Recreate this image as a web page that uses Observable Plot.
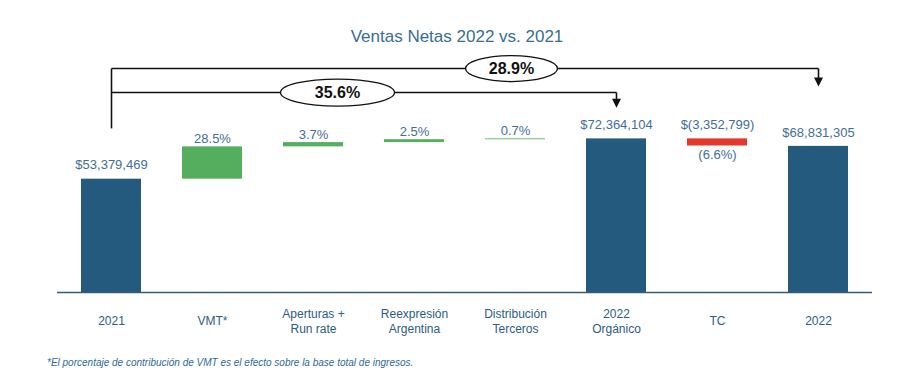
<!DOCTYPE html>
<html><head><meta charset="utf-8">
<script src="https://cdn.jsdelivr.net/npm/d3@7"></script>
<script src="https://cdn.jsdelivr.net/npm/@observablehq/plot@0.6"></script>
<style>
body{margin:0;background:#fff;width:900px;height:390px;position:relative;overflow:hidden;font-family:"Liberation Sans",Arial,sans-serif}
#title{position:absolute;top:27px;left:0;width:914px;text-align:center;font-size:17px;color:#3a6d93;line-height:20px}
#chart{position:absolute;top:50px;left:0}
#note{position:absolute;top:357px;left:47px;font-size:10px;font-style:italic;color:#2f6a98;white-space:nowrap}
</style></head><body>
<div id="title">Ventas Netas 2022 vs. 2021</div>
<div id="chart"></div>
<div id="note">*El porcentaje de contribución de VMT es el efecto sobre la base total de ingresos.</div>
<script>
// ---- data ----
const categories = ["2021", "VMT*", "Aperturas +\nRun rate", "Reexpresión\nArgentina", "Distribución\nTerceros", "2022\nOrgánico", "TC", "2022"];
const kinds = ["total", "up", "up", "up", "up", "total", "down", "total"];
const amounts = [53379469, 15230000, 2000000, 1360000, 390000, 72364104, -3352799, 68831305];
const topLabels = ["$53,379,469", "28.5%", "3.7%", "2.5%", "0.7%", "$72,364,104", "$(3,352,799)", "$68,831,305"];
const bottomLabels = ["", "", "", "", "", "", "(6.6%)", ""];
const bracketLabels = ["35.6%", "28.9%"];
const bracketTargets = ["2022\nOrgánico", "2022"];

// ---- layout of waterfall ----
const colors = {total: "#245a7e", up: "#54ae5d", down: "#e5372b"};
let running = 0;
const rows = categories.map((cat, i) => {
  let y1, y2;
  if (kinds[i] === "total") { y1 = 0; y2 = amounts[i]; running = amounts[i]; }
  else { y1 = running; y2 = running + amounts[i]; running = y2; }
  return {cat, kind: kinds[i], y1, y2, top: Math.max(y1, y2), bottom: Math.min(y1, y2),
          label: topLabels[i], under: bottomLabels[i], color: colors[kinds[i]]};
});

const yMax = 114e6;
const upper = 105.5e6, lower = 94.2e6, stemEnd = 77.3e6;
const tipUpper = 99.2e6, tipLower = 89.2e6;

const arrowDown = {draw(ctx) { ctx.moveTo(-4.5, -4.5); ctx.lineTo(4.5, -4.5); ctx.lineTo(0, 4.5); ctx.closePath(); }};
function ellipse(rx, ry) {
  const k = 0.5523;
  return {draw(ctx) {
    ctx.moveTo(rx, 0);
    ctx.bezierCurveTo(rx, ry * k, rx * k, ry, 0, ry);
    ctx.bezierCurveTo(-rx * k, ry, -rx, ry * k, -rx, 0);
    ctx.bezierCurveTo(-rx, -ry * k, -rx * k, -ry, 0, -ry);
    ctx.bezierCurveTo(rx * k, -ry, rx, -ry * k, rx, 0);
    ctx.closePath();
  }};
}

const links = [
  {x1: categories[0], x2: categories[0], y1: upper, y2: stemEnd},
  {x1: categories[0], x2: bracketTargets[1], y1: upper, y2: upper},
  {x1: categories[0], x2: bracketTargets[0], y1: lower, y2: lower},
  {x1: bracketTargets[1], x2: bracketTargets[1], y1: upper, y2: tipUpper},
  {x1: bracketTargets[0], x2: bracketTargets[0], y1: lower, y2: tipLower}
];
const tips = [{x: bracketTargets[1], y: tipUpper}, {x: bracketTargets[0], y: tipLower}];

const chart = Plot.plot({
  width: 900, height: 300,
  marginLeft: 57, marginRight: 28, marginTop: 0, marginBottom: 58,
  style: {fontFamily: "'Liberation Sans', Arial, sans-serif", background: "#fff"},
  x: {domain: categories, paddingInner: 0.41, paddingOuter: 0.205, axis: null},
  y: {domain: [0, yMax], axis: null},
  marks: [
    Plot.barY(rows, {x: "cat", y1: "y1", y2: "y2", fill: "color"}),
    Plot.ruleY([0], {stroke: "#3b5a78", strokeWidth: 1.5}),
    Plot.text(rows.filter(d => d.kind !== "up"), {x: "cat", y: "top", text: "label", dy: -14, fill: "#3f6f98", fontSize: 13}),
    Plot.text(rows.filter(d => d.kind === "up"), {x: "cat", y: "top", text: "label", dy: -8, fill: "#3f6f98", fontSize: 13}),
    Plot.text(rows.filter(d => d.under), {x: "cat", y: "bottom", text: "under", dy: 9, fill: "#3f6f98", fontSize: 13}),
    Plot.text(rows, {x: "cat", frameAnchor: "bottom", text: "cat", dy: 28, lineAnchor: "middle", lineHeight: 1.25, fill: "#2d5c86", fontSize: 12}),
    Plot.link(links, {x1: "x1", x2: "x2", y1: "y1", y2: "y2", stroke: "#111", strokeWidth: 1.6}),
    Plot.dot(tips, {x: "x", y: "y", symbol: arrowDown, fill: "#111", stroke: "none", r: 5}),
    Plot.dot([{x: categories[2], y: lower}], {x: "x", y: "y", dx: 24, symbol: ellipse(57, 13.5), fill: "#fff", stroke: "#111", strokeWidth: 1.3, r: 5}),
    Plot.dot([{x: categories[4], y: upper}], {x: "x", y: "y", dx: -4, symbol: ellipse(46, 13), fill: "#fff", stroke: "#111", strokeWidth: 1.3, r: 5}),
    Plot.text([{x: categories[2], y: lower, t: bracketLabels[0]}], {x: "x", y: "y", dx: 24, text: "t", fontSize: 16, fontWeight: "bold", fill: "#111"}),
    Plot.text([{x: categories[4], y: upper, t: bracketLabels[1]}], {x: "x", y: "y", dx: -4, text: "t", fontSize: 16, fontWeight: "bold", fill: "#111"})
  ]
});
document.getElementById("chart").appendChild(chart);
</script>
</body></html>
